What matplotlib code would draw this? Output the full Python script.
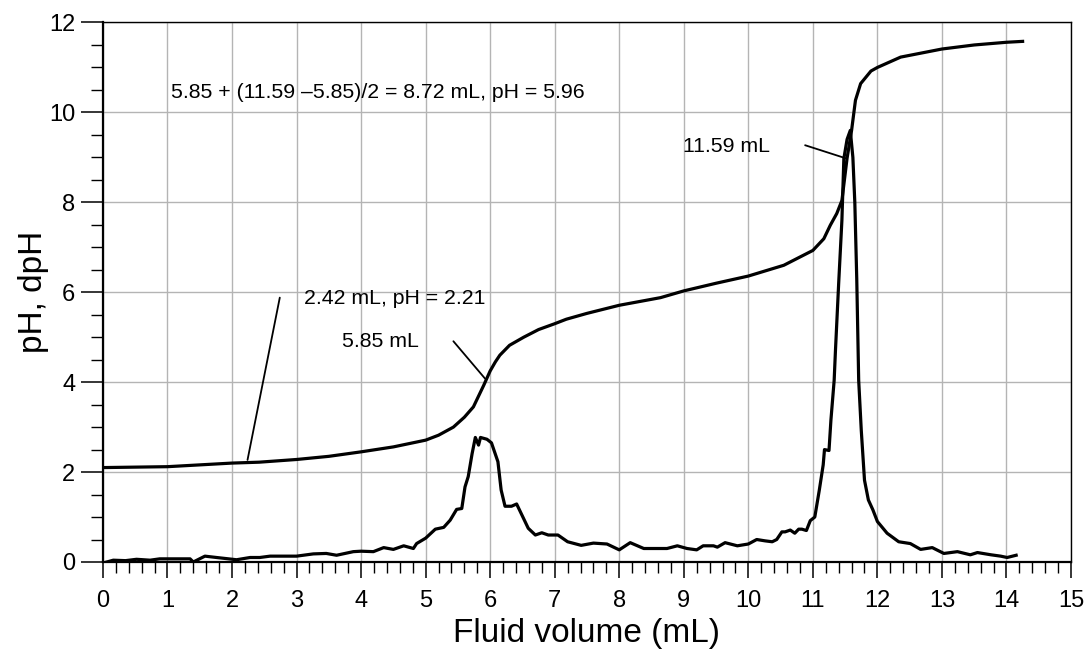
import matplotlib
matplotlib.use("Agg")
import matplotlib.pyplot as plt
from matplotlib.ticker import MultipleLocator

plt.rcParams['font.family'] = ['Liberation Sans', 'DejaVu Sans']

# pH curve (fluid volume in mL, pH)
ph_x = [0, 0.5, 1.0, 1.5, 2.0, 2.42, 3.0, 3.5, 4.0, 4.5, 5.0, 5.2, 5.43, 5.6,
        5.74, 5.9, 6.0, 6.08, 6.15, 6.3, 6.52, 6.75, 7.0, 7.18, 7.5, 8.0, 8.64,
        9.0, 9.5, 10.0, 10.55, 11.0, 11.17, 11.27, 11.37, 11.45, 11.53, 11.6,
        11.66, 11.74, 11.9, 12.0, 12.36, 13.0, 13.5, 14.0, 14.25]
ph_y = [2.1, 2.11, 2.12, 2.16, 2.2, 2.22, 2.28, 2.35, 2.45, 2.56, 2.71, 2.82,
        3.0, 3.22, 3.45, 3.93, 4.25, 4.45, 4.6, 4.82, 5.0, 5.17, 5.3, 5.4, 5.53,
        5.71, 5.88, 6.03, 6.2, 6.36, 6.6, 6.93, 7.19, 7.49, 7.75, 8.04, 8.98,
        9.6, 10.27, 10.64, 10.92, 11.0, 11.23, 11.41, 11.5, 11.56, 11.58]

# first derivative curve (dpH)
dph_x = [0.06, 0.16, 0.35, 0.52, 0.73, 0.88, 1.1, 1.35, 1.4, 1.58,
         1.76, 2.07, 2.28, 2.43, 2.59, 3.0, 3.26, 3.46, 3.62, 3.88,
         4.0, 4.19, 4.35, 4.5, 4.66, 4.81, 4.86, 5.0, 5.15, 5.28,
         5.38, 5.48, 5.56, 5.61, 5.66, 5.72, 5.77, 5.82, 5.85, 5.95,
         6.02, 6.12, 6.17, 6.23, 6.33, 6.41, 6.48, 6.59, 6.7, 6.8,
         6.9, 7.05, 7.2, 7.41, 7.6, 7.81, 8.0, 8.17, 8.38, 8.53,
         8.74, 8.9, 9.05, 9.2, 9.3, 9.46, 9.52, 9.64, 9.83, 10.0,
         10.13, 10.26, 10.37, 10.44, 10.52, 10.57, 10.65, 10.72, 10.78, 10.83,
         10.9, 10.96, 11.03, 11.1, 11.16, 11.18, 11.25, 11.28, 11.33, 11.35,
         11.4, 11.45, 11.48, 11.53, 11.58, 11.62, 11.65, 11.68, 11.71, 11.75,
         11.8, 11.86, 11.93, 12.0, 12.15, 12.33, 12.51, 12.67, 12.85, 13.03,
         13.24, 13.44, 13.55, 13.76, 13.91, 14.01, 14.15]
dph_y = [0.0, 0.04, 0.03, 0.06, 0.04, 0.07, 0.07, 0.07, 0.0, 0.13,
         0.10, 0.05, 0.10, 0.10, 0.13, 0.13, 0.18, 0.19, 0.15, 0.23,
         0.24, 0.23, 0.32, 0.28, 0.36, 0.30, 0.41, 0.53, 0.73, 0.77,
         0.93, 1.17, 1.19, 1.67, 1.9, 2.41, 2.77, 2.6, 2.77, 2.73,
         2.65, 2.23, 1.6, 1.24, 1.24, 1.29, 1.08, 0.75, 0.6, 0.65,
         0.6, 0.6, 0.45, 0.37, 0.42, 0.40, 0.27, 0.43, 0.30, 0.30,
         0.30, 0.36, 0.30, 0.27, 0.36, 0.36, 0.33, 0.43, 0.36, 0.40,
         0.50, 0.47, 0.45, 0.50, 0.67, 0.67, 0.71, 0.64, 0.73, 0.73,
         0.70, 0.92, 1.0, 1.6, 2.16, 2.5, 2.48, 3.16, 4.04, 4.7,
         6.2, 7.6, 8.97, 9.4, 9.6, 9.0, 8.0, 6.3, 4.04, 2.93,
         1.82, 1.38, 1.16, 0.9, 0.64, 0.45, 0.41, 0.28, 0.32, 0.19,
         0.23, 0.16, 0.21, 0.16, 0.13, 0.10, 0.15]

# annotation texts: (label, x, y)
labels = [
    ("5.85 + (11.59 \u20135.85)/2 = 8.72 mL, pH = 5.96", 1.05, 10.45),
    ("2.42 mL, pH = 2.21", 3.12, 5.86),
    ("5.85 mL", 3.70, 4.90),
    ("11.59 mL", 8.99, 9.24),
]
# leader lines: (start, end)
leaders = [
    ((2.74, 5.88), (2.24, 2.27)),
    ((5.43, 4.91), (5.92, 4.08)),
    ((10.88, 9.27), (11.53, 8.97)),
]

fig = plt.figure(figsize=(10.86, 6.5), dpi=100)
ax = fig.add_axes([0.0948, 0.1354, 0.8914, 0.83])

ax.plot(ph_x, ph_y, color='black', lw=2.3, solid_joinstyle='round', zorder=3)
ax.plot(dph_x, dph_y, color='black', lw=2.3, solid_joinstyle='round', zorder=3)

for txt, x, y in labels:
    ax.text(x, y, txt, fontsize=15.3, ha='left', va='center', zorder=4)
for start, end in leaders:
    ax.annotate("", xy=end, xytext=start,
                arrowprops=dict(arrowstyle='-', lw=1.3, color='black',
                                shrinkA=0, shrinkB=0))

ax.set_xlim(0, 15)
ax.set_ylim(0, 12)
ax.xaxis.set_major_locator(MultipleLocator(1))
ax.xaxis.set_minor_locator(MultipleLocator(0.2))
ax.yaxis.set_major_locator(MultipleLocator(2))
ax.yaxis.set_minor_locator(MultipleLocator(0.5))
ax.grid(True, which='major', color='#b4b4b4', lw=1.0, zorder=0)
ax.set_axisbelow(True)

ax.tick_params(axis='x', which='major', length=11.5, width=1.1, labelsize=17, pad=9)
ax.tick_params(axis='x', which='minor', length=8, width=1.0)
ax.tick_params(axis='y', which='major', length=16, width=1.1, labelsize=17, pad=4)
ax.tick_params(axis='y', which='minor', length=8.4, width=1.0)

for side in ('left', 'bottom'):
    ax.spines[side].set_linewidth(1.6)
for side in ('top', 'right'):
    ax.spines[side].set_linewidth(1.0)

ax.set_xlabel("Fluid volume (mL)", fontsize=24, labelpad=4)
ax.set_ylabel("pH, dpH", fontsize=24)
ax.yaxis.set_label_coords(-0.056, 0.5)

fig.savefig("out.png", dpi=100)
